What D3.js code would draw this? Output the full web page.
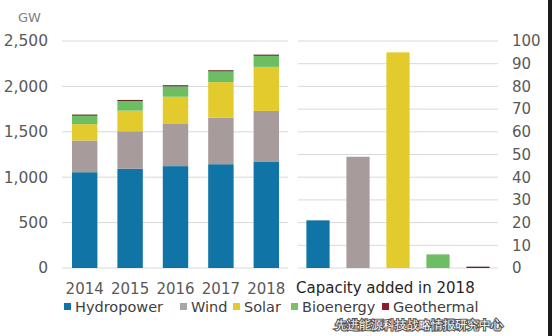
<!DOCTYPE html>
<html>
<head>
<meta charset="utf-8">
<script src="https://cdn.jsdelivr.net/npm/d3@7"></script>
<style>
  html, body { margin: 0; padding: 0; background: #fff; }
  svg { display: block; }
  text { font-family: "DejaVu Sans", sans-serif; }
</style>
</head>
<body>
<svg id="chart" width="552" height="336"></svg>
<script>
// Installed capacity by source (GW), 2014-2018
const years = ["2014", "2015", "2016", "2017", "2018"];
const hydropower = [1055, 1093, 1122, 1143, 1168];
const wind       = [349, 413, 464, 512, 562];
const solar      = [180, 227, 300, 392, 485];
const bioenergy  = [93, 105, 114, 118, 122];
const geothermal = [13, 13, 13, 13, 13];

// Capacity added in 2018 (GW)
const sources = ["Hydropower", "Wind", "Solar", "Bioenergy", "Geothermal"];
const added2018 = [21, 49, 95, 6, 0.6];

const leftTicks = [0, 500, 1000, 1500, 2000, 2500];
const rightTicks = [0, 10, 20, 30, 40, 50, 60, 70, 80, 90, 100];

const colors = {
  Hydropower: "#1174a6",
  Wind: "#a79b9c",
  Solar: "#e3cb2d",
  Bioenergy: "#6dbd62",
  Geothermal: "#5b2b2b"
};
const legendColors = {
  Hydropower: "#1174a6",
  Wind: "#a6a6a6",
  Solar: "#e3cb2d",
  Bioenergy: "#7fbf6a",
  Geothermal: "#8e1b2e"
};

const svg = d3.select("#chart");

// ---- Left panel: stacked totals ----
const yL = d3.scaleLinear().domain([0, 2500]).range([268, 41]);
const xL = d3.scaleBand().domain(years).range([62, 289])
  .paddingInner(0.44).paddingOuter(0.22);

svg.append("g").selectAll("line").data(leftTicks).join("line")
  .attr("x1", 62).attr("x2", 288)
  .attr("y1", d => yL(d)).attr("y2", d => yL(d))
  .attr("stroke", "#d9d9d9").attr("stroke-width", 1);

const rows = years.map((y, i) => ({
  year: y,
  Hydropower: hydropower[i], Wind: wind[i], Solar: solar[i],
  Bioenergy: bioenergy[i], Geothermal: geothermal[i]
}));
const stack = d3.stack().keys(sources)(rows);

svg.append("g").selectAll("g").data(stack).join("g")
  .attr("fill", d => colors[d.key])
  .selectAll("rect").data(d => d).join("rect")
  .attr("x", d => xL(d.data.year))
  .attr("width", xL.bandwidth())
  .attr("y", d => yL(d[1]))
  .attr("height", d => yL(d[0]) - yL(d[1]));

const axL = svg.append("g").attr("transform", "translate(48,0)")
  .call(d3.axisLeft(yL).tickValues(leftTicks).tickSize(0).tickPadding(0)
    .tickFormat(d3.format(",")));
axL.select(".domain").remove();
axL.selectAll("text").attr("font-size", 15.5).attr("fill", "#595959")
  .attr("font-family", "DejaVu Sans, sans-serif");

svg.append("text").attr("x", 18).attr("y", 22).text("GW")
  .attr("font-size", 13).attr("fill", "#7f7f7f");

const axX = svg.append("g").attr("transform", "translate(0,283)")
  .call(d3.axisBottom(xL).tickSize(0).tickPadding(0));
axX.select(".domain").remove();
axX.selectAll("text").attr("font-size", 15).attr("fill", "#595959")
  .attr("dy", "0.71em").attr("font-family", "DejaVu Sans, sans-serif");

// ---- Right panel: capacity added in 2018 ----
const yR = d3.scaleLinear().domain([0, 100]).range([268, 41]);
const xR = d3.scaleBand().domain(sources).range([298, 498])
  .paddingInner(0.42).paddingOuter(0.21);

svg.append("g").selectAll("line").data(rightTicks).join("line")
  .attr("x1", 298).attr("x2", 498)
  .attr("y1", d => yR(d)).attr("y2", d => yR(d))
  .attr("stroke", "#d9d9d9").attr("stroke-width", 1);

svg.append("g").selectAll("rect").data(sources).join("rect")
  .attr("x", d => xR(d))
  .attr("width", xR.bandwidth())
  .attr("y", (d, i) => yR(added2018[i]))
  .attr("height", (d, i) => yR(0) - yR(added2018[i]))
  .attr("fill", d => colors[d]);

const axR = svg.append("g").attr("transform", "translate(512,0)")
  .call(d3.axisRight(yR).tickValues(rightTicks).tickSize(0).tickPadding(0));
axR.select(".domain").remove();
axR.selectAll("text").attr("font-size", 15).attr("fill", "#595959")
  .attr("font-family", "DejaVu Sans, sans-serif");

svg.append("text").attr("x", 296).attr("y", 293)
  .text("Capacity added in 2018")
  .attr("font-size", 15).attr("fill", "#262626");

// ---- Legend ----
const legendX = [64, 180, 233, 291, 382];
const lg = svg.append("g").selectAll("g").data(sources).join("g")
  .attr("transform", (d, i) => `translate(${legendX[i]},307)`);
lg.append("rect").attr("x", 0).attr("y", -4).attr("width", 7).attr("height", 7)
  .attr("fill", d => legendColors[d]);
lg.append("text").attr("x", 11).attr("y", 0).attr("dy", "0.36em")
  .text(d => d).attr("font-size", 14.5).attr("fill", "#404040");

// Publisher mark
svg.append("text").attr("x", 503).attr("y", 325).attr("dy", "0.36em")
  .attr("text-anchor", "end")
  .text("先进能源科技战略情报研究中心")
  .attr("font-family", "Noto Sans CJK SC, sans-serif")
  .attr("font-size", 12).attr("fill", "#fff")
  .attr("stroke", "#555").attr("stroke-width", 2.2).attr("paint-order", "stroke");

// Dark strip along the right edge
svg.append("rect").attr("x", 548).attr("y", 0).attr("width", 4).attr("height", 336)
  .attr("fill", "#1a1a1a");
</script>
</body>
</html>
